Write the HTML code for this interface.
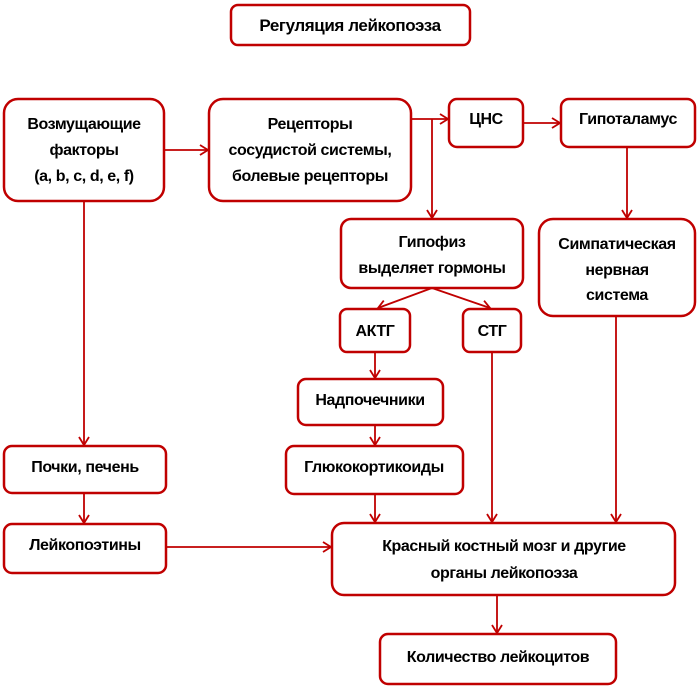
<!DOCTYPE html>
<html><head><meta charset="utf-8"><style>
html,body{margin:0;padding:0;background:#fff;}
svg{display:block;}
text{font-family:"Liberation Sans","Noto Sans CJK SC",sans-serif;font-weight:bold;font-size:16px;letter-spacing:-0.4px;fill:#000;text-anchor:middle;}
rect{fill:#fff;stroke:#c00000;stroke-width:2.5;}
line,polyline{stroke:#c00000;stroke-width:1.8;fill:none;}
</style></head><body>
<svg width="698" height="688" viewBox="0 0 698 688">
<defs><marker id="a" markerWidth="12" markerHeight="12" refX="10" refY="6" orient="auto" markerUnits="userSpaceOnUse"><polyline points="2,1 10,6 2,11" style="stroke:#c00000;stroke-width:1.8;fill:none"/></marker></defs>
<line x1="164" y1="150" x2="208" y2="150" marker-end="url(#a)"/>
<line x1="84" y1="200" x2="84" y2="445" marker-end="url(#a)"/>
<line x1="84" y1="493" x2="84" y2="523" marker-end="url(#a)"/>
<line x1="411" y1="119" x2="448" y2="119" marker-end="url(#a)"/>
<line x1="432" y1="119" x2="432" y2="218" marker-end="url(#a)"/>
<line x1="523" y1="123" x2="560" y2="123" marker-end="url(#a)"/>
<line x1="627" y1="147" x2="627" y2="218" marker-end="url(#a)"/>
<line x1="432" y1="288" x2="378" y2="308" marker-end="url(#a)"/>
<line x1="432" y1="288" x2="490" y2="308" marker-end="url(#a)"/>
<line x1="375" y1="352" x2="375" y2="378" marker-end="url(#a)"/>
<line x1="375" y1="425" x2="375" y2="445" marker-end="url(#a)"/>
<line x1="375" y1="494" x2="375" y2="522" marker-end="url(#a)"/>
<line x1="492" y1="352" x2="492" y2="522" marker-end="url(#a)"/>
<line x1="616" y1="316" x2="616" y2="522" marker-end="url(#a)"/>
<line x1="166" y1="547" x2="331" y2="547" marker-end="url(#a)"/>
<line x1="497" y1="596" x2="497" y2="633" marker-end="url(#a)"/>
<rect x="231" y="5" width="239" height="40" rx="7"/>
<text x="350" y="31" style="font-size:17px">Регуляция лейкопоэза</text>
<rect x="4" y="99" width="160" height="102" rx="14"/>
<text x="84" y="129">Возмущающие</text><text x="84" y="155">факторы</text><text x="84" y="181">(a, b, c, d, e, f)</text>
<rect x="209" y="99" width="202" height="102" rx="14"/>
<text x="310" y="129">Рецепторы</text><text x="310" y="155">сосудистой системы,</text><text x="310" y="181">болевые рецепторы</text>
<rect x="449" y="99" width="74" height="48" rx="8"/>
<text x="486" y="124">ЦНС</text>
<rect x="561" y="99" width="134" height="48" rx="8"/>
<text x="628" y="124">Гипоталамус</text>
<rect x="341" y="219" width="182" height="69" rx="10"/>
<text x="432" y="247">Гипофиз</text><text x="432" y="273">выделяет гормоны</text>
<rect x="539" y="219" width="156" height="97" rx="14"/>
<text x="617" y="249">Симпатическая</text><text x="617" y="275">нервная</text><text x="617" y="300">система</text>
<rect x="340" y="309" width="70" height="43" rx="7"/>
<text x="375" y="336">АКТГ</text>
<rect x="463" y="309" width="58" height="43" rx="7"/>
<text x="492" y="336">СТГ</text>
<rect x="298" y="379" width="145" height="46" rx="8"/>
<text x="370" y="405">Надпочечники</text>
<rect x="4" y="446" width="162" height="47" rx="8"/>
<text x="85" y="472">Почки, печень</text>
<rect x="286" y="446" width="177" height="48" rx="8"/>
<text x="374" y="472">Глюкокортикоиды</text>
<rect x="4" y="524" width="162" height="49" rx="8"/>
<text x="85" y="550">Лейкопоэтины</text>
<rect x="332" y="523" width="343" height="72" rx="12"/>
<text x="504" y="551">Красный костный мозг и другие</text><text x="504" y="578">органы лейкопоэза</text>
<rect x="380" y="634" width="236" height="50" rx="8"/>
<text x="498" y="662">Количество лейкоцитов</text>
</svg>
</body></html>
